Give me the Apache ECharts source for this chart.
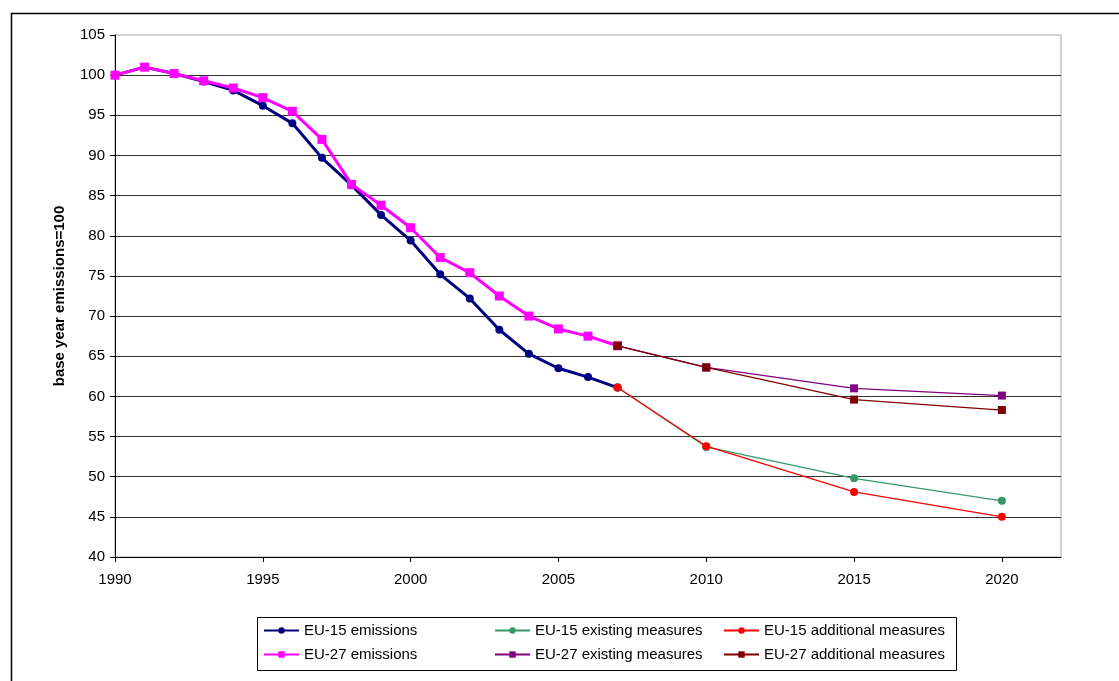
<!DOCTYPE html>
<html>
<head>
<meta charset="utf-8">
<script src="https://cdn.jsdelivr.net/npm/echarts@6/dist/echarts.min.js"></script>
<style>
html,body{margin:0;padding:0;background:#fff;}
#chart{width:1119px;height:681px;}
</style>
</head>
<body>
<div id="chart"></div>
<script>
// ---- data ----
const histYears = [1990,1991,1992,1993,1994,1995,1996,1997,1998,1999,2000,2001,2002,2003,2004,2005,2006,2007];
const eu15Emissions = [100,101,100.2,99.2,98.1,96.2,94.0,89.7,86.3,82.6,79.4,75.2,72.2,68.3,65.3,63.5,62.4,61.1];
const eu27Emissions = [100,101,100.2,99.3,98.4,97.2,95.5,92.0,86.4,83.8,81.0,77.3,75.4,72.5,70.0,68.4,67.5,66.3];
const projYears = [2007,2010,2015,2020];
const eu15Existing = [61.1,53.7,49.8,47.0];
const eu15Additional = [61.1,53.8,48.1,45.0];
const eu27Existing = [66.3,63.6,61.0,60.1];
const eu27Additional = [66.3,63.6,59.6,58.3];
const xTickLabels = [1990,1995,2000,2005,2010,2015,2020];
const seriesNames = ['EU-15 emissions','EU-27 emissions','EU-15 existing measures','EU-27 existing measures','EU-15 additional measures','EU-27 additional measures'];

const pair = (xs, ys) => xs.map((x, i) => [x, ys[i]]);
const FONT = '"Liberation Sans", Arial, sans-serif';

const chart = echarts.init(document.getElementById('chart'), null, {renderer: 'canvas'});

function mkSeries(name, data, color, symbol, size, width) {
  return {
    name: name, type: 'line', data: data,
    symbol: symbol, symbolSize: size, showSymbol: true,
    lineStyle: {color: color, width: width},
    itemStyle: {color: color, borderWidth: 0},
    emphasis: {disabled: true},
    animation: false, z: 3
  };
}

const legendPos = [
  {name: seriesNames[0], left: 263, top: 623},
  {name: seriesNames[1], left: 263, top: 647},
  {name: seriesNames[2], left: 494, top: 623},
  {name: seriesNames[3], left: 494, top: 647},
  {name: seriesNames[4], left: 723, top: 623},
  {name: seriesNames[5], left: 723, top: 647}
];

const option = {
  backgroundColor: '#fff',
  animation: false,
  textStyle: {fontFamily: FONT},
  grid: {left: 115, right: 58, top: 35, bottom: 124, show: true, borderColor: '#a0a0a0', borderWidth: 1, containLabel: false, outerBoundsMode: 'none'},
  xAxis: {
    type: 'value', min: 1990, max: 2022, interval: 5,
    axisLine: {show: true, lineStyle: {color: '#000', width: 1}},
    axisTick: {show: true, length: 5, lineStyle: {color: '#000'}, customValues: xTickLabels},
    axisLabel: {fontSize: 15, color: '#000', margin: 15, fontFamily: FONT, customValues: xTickLabels, formatter: v => (v > 2020 ? '' : String(v))},
    splitLine: {show: false}
  },
  yAxis: {
    type: 'value', min: 40, max: 105, interval: 5,
    name: 'base year emissions=100', nameLocation: 'middle', nameGap: 48,
    nameTextStyle: {fontSize: 15, fontWeight: 'bold', color: '#000', fontFamily: FONT},
    axisLine: {show: true, lineStyle: {color: '#000', width: 1}},
    axisTick: {show: true, length: 5, lineStyle: {color: '#000'}},
    axisLabel: {fontSize: 15, color: '#000', margin: 10, fontFamily: FONT},
    splitLine: {show: true, showMinLine: false, showMaxLine: false, lineStyle: {color: '#333', width: 1}}
  },
  legend: legendPos.map(l => ({
    data: [l.name], left: l.left, top: l.top, orient: 'horizontal',
    itemWidth: 35, itemHeight: 8, itemGap: 4, padding: 0,
    textStyle: {fontSize: 15, color: '#000', fontFamily: FONT, padding: [0,0,0,0]},
    selectedMode: false
  })),
  graphic: [
    {type: 'rect', shape: {x: 11.5, y: 13.5, width: 1200, height: 800}, style: {fill: null, stroke: '#000', lineWidth: 1.5}, z: 0, silent: true},
    {type: 'rect', shape: {x: 257.5, y: 617.5, width: 699, height: 53}, style: {fill: null, stroke: '#000', lineWidth: 1}, z: 0, silent: true}
  ],
  series: [
    mkSeries(seriesNames[0], pair(histYears, eu15Emissions), '#000080', 'circle', 8, 3),
    mkSeries(seriesNames[1], pair(histYears, eu27Emissions), '#ff00ff', 'rect', 9, 3),
    mkSeries(seriesNames[2], pair(projYears, eu15Existing), '#339966', 'circle', 8, 1.3),
    mkSeries(seriesNames[3], pair(projYears, eu27Existing), '#800080', 'rect', 8, 1.3),
    mkSeries(seriesNames[4], pair(projYears, eu15Additional), '#ff0000', 'circle', 8, 1.3),
    mkSeries(seriesNames[5], pair(projYears, eu27Additional), '#800000', 'rect', 8, 1.3)
  ]
};
chart.setOption(option);
</script>
</body>
</html>
